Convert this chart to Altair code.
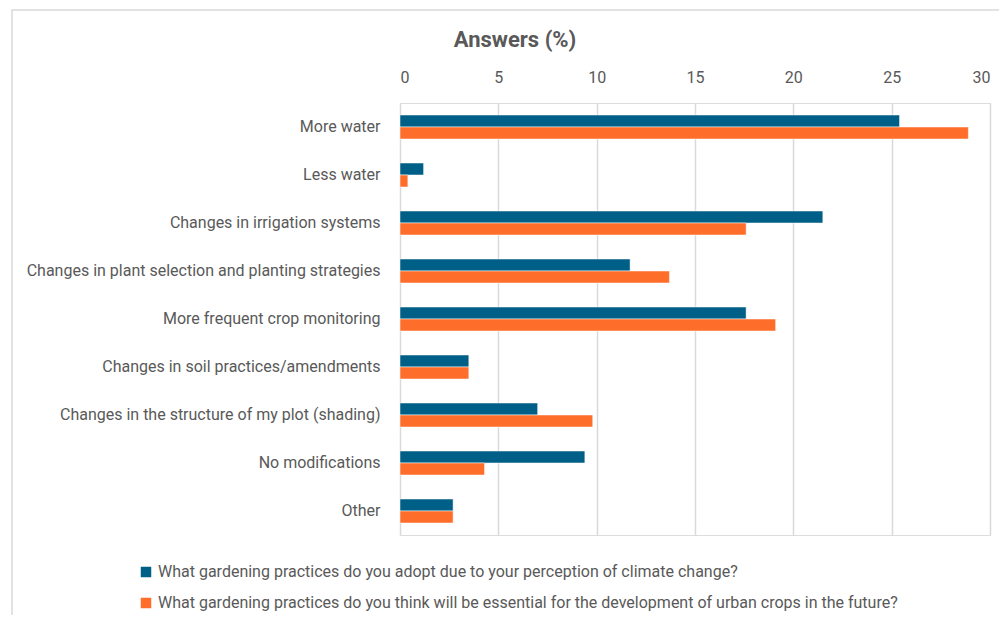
import altair as alt
import pandas as pd

categories = [
    "More water",
    "Less water",
    "Changes in irrigation systems",
    "Changes in plant selection and planting strategies",
    "More frequent crop monitoring",
    "Changes in soil practices/amendments",
    "Changes in the structure of my plot (shading)",
    "No modifications",
    "Other",
]
series_names = [
    "What gardening practices do you adopt due to your perception of climate change?",
    "What gardening practices do you think will be essential for the development of urban crops in the future?",
]
adopt_values = [25.4, 1.2, 21.5, 11.7, 17.6, 3.5, 7.0, 9.4, 2.7]
future_values = [28.9, 0.4, 17.6, 13.7, 19.1, 3.5, 9.8, 4.3, 2.7]
x_ticks = [0, 5, 10, 15, 20, 25, 30]
title_text = ["Answers (%)"]

rows = []
for c, a, f in zip(categories, adopt_values, future_values):
    rows.append({"category": c, "series": series_names[0], "value": a})
    rows.append({"category": c, "series": series_names[1], "value": f})
df = pd.DataFrame(rows)

FONT = "Roboto, sans-serif"
TXT = "#595959"

bars = alt.Chart(df).mark_bar(stroke="white", strokeWidth=0.5).encode(
    y=alt.Y("category:N", sort=categories, title=None,
            scale=alt.Scale(paddingInner=0.5, paddingOuter=0.25),
            axis=alt.Axis(domain=False, ticks=False, labelPadding=20,
                          labelFontSize=16, labelColor=TXT, labelFont=FONT,
                          labelLimit=400)),
    yOffset=alt.YOffset("series:N", sort=series_names),
    x=alt.X("value:Q", title=None,
            scale=alt.Scale(domain=[0, 30], nice=False),
            axis=alt.Axis(orient="top", values=x_ticks, domain=False, ticks=False,
                          grid=True, gridColor="#d9d9d9", gridWidth=1.5,
                          labelPadding=18, labelFontSize=16, labelColor=TXT,
                          labelFont=FONT)),
    color=alt.Color("series:N", sort=series_names,
                    scale=alt.Scale(domain=series_names, range=["#005f86", "#ff6d2a"]),
                    legend=alt.Legend(title=None, orient="none", legendX=-262, legendY=461,
                                      direction="vertical", symbolType="square",
                                      symbolSize=110, symbolStrokeWidth=0,
                                      labelFontSize=16, labelColor=TXT, labelFont=FONT,
                                      rowPadding=15, labelLimit=900, symbolOffset=0,
                                      labelOffset=4)),
)

frame = alt.Chart(pd.DataFrame({"v": [0]})).mark_rect(
    fill=None, stroke="#d9d9d9", strokeWidth=1.5, clip=False
).encode(
    x=alt.value(-388), x2=alt.value(640), y=alt.value(-93), y2=alt.value(560)
)

title = alt.Chart(pd.DataFrame({"t": title_text})).mark_text(
    font=FONT, fontSize=22, fontWeight="bold", color=TXT, align="center", baseline="middle"
).encode(
    text="t:N", x=alt.value(115), y=alt.value(-63)
)

chart = alt.layer(frame, bars, title).properties(
    width=590, height=432,
    autosize=alt.AutoSizeParams(type="none"),
    padding={"left": 392, "top": 95, "right": 9, "bottom": 80},
).configure_view(stroke=None).configure(background="white")

chart.save("out.html", embed_options={"renderer": "svg", "actions": False})
